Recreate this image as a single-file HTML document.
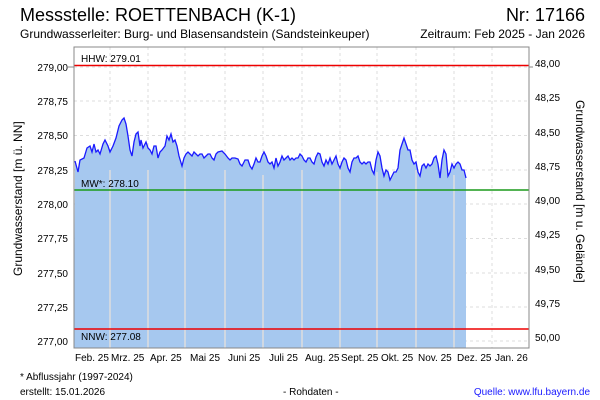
<!DOCTYPE html>
<html><head><meta charset="utf-8"><style>
body{margin:0;background:#fff;}
svg{display:block;font-family:"Liberation Sans",sans-serif;}
</style></head><body>
<svg width="600" height="400" xmlns="http://www.w3.org/2000/svg">
<rect width="600" height="400" fill="#fff"/>
<text x="20" y="21" font-size="18" fill="#000">Messstelle: ROETTENBACH (K-1)</text>
<text x="585" y="21" font-size="18" fill="#000" text-anchor="end">Nr: 17166</text>
<text x="20" y="38" font-size="12">Grundwasserleiter:  Burg- und Blasensandstein (Sandsteinkeuper)</text>
<text x="585" y="38" font-size="12" text-anchor="end">Zeitraum: Feb 2025 - Jan 2026</text>
<g stroke="#ddd" stroke-dasharray="3,3" stroke-width="1">
<line x1="74" x2="529" y1="101" y2="101"/><line x1="74" x2="529" y1="135.5" y2="135.5"/><line x1="74" x2="529" y1="170" y2="170"/><line x1="74" x2="529" y1="204" y2="204"/><line x1="74" x2="529" y1="238.5" y2="238.5"/><line x1="74" x2="529" y1="273" y2="273"/><line x1="74" x2="529" y1="307" y2="307"/><line x1="74" x2="529" y1="341" y2="341"/><line x1="74" x2="529" y1="67" y2="67"/>
<line x1="110" x2="110" y1="47" y2="348"/><line x1="148" x2="148" y1="47" y2="348"/><line x1="185" x2="185" y1="47" y2="348"/><line x1="225" x2="225" y1="47" y2="348"/><line x1="263" x2="263" y1="47" y2="348"/><line x1="302" x2="302" y1="47" y2="348"/><line x1="340" x2="340" y1="47" y2="348"/><line x1="377" x2="377" y1="47" y2="348"/><line x1="416" x2="416" y1="47" y2="348"/><line x1="454" x2="454" y1="47" y2="348"/><line x1="492" x2="492" y1="47" y2="348"/>
</g>
<polygon fill="#a6c8ef" points="74,348 75,161 78,172 80,160 84,158 87,148 90,146 92,152 94,144 96,152 98,150 100,154 103,144 105,140 108,146 110,152 113,146 116,138 119,126 122,120 124,118 126,124 128,136 130,150 132,156 134,142 136,134 138,132 140,146 141,140 143,148 146,142 148,148 150,150 152,154 154,146 156,146 158,158 160,152 162,150 165,146 167,136 169,140 171,134 173,142 175,140 177,146 179,156 182,166 184,158 186,154 188,152 190,154 192,156 194,152 196,154 198,156 200,154 202,154 204,158 206,156 208,154 210,154 212,158 214,160 216,154 218,152 222,151 225,154 228,158 230,160 232,158 235,158 238,159 240,164 242,166 245,160 248,160 250,166 252,169 254,164 256,158 258,162 260,162 262,156 264,152 266,156 268,162 270,164 272,162 274,168 276,158 278,166 280,162 282,156 284,160 286,158 288,156 290,160 292,158 294,160 296,158 298,158 300,154 302,156 304,160 306,162 308,158 310,158 312,162 314,164 316,157 318,153 320,154 322,162 324,166 326,160 328,164 330,158 332,164 334,160 336,156 338,164 340,168 342,162 344,158 346,160 348,168 350,172 352,162 354,158 356,158 358,156 360,162 362,164 364,162 366,164 368,162 370,162 372,170 374,174 376,160 378,152 380,156 382,168 384,176 386,170 388,172 390,180 392,176 394,172 396,172 398,168 400,150 402,144 404,138 406,144 408,150 410,150 412,160 414,164 416,162 418,172 420,176 422,166 424,164 426,168 428,164 430,166 432,164 434,158 436,156 438,164 440,178 442,160 444,150 446,154 448,176 450,172 452,164 454,168 456,164 458,162 460,164 462,170 464,170 466,178 466,348"/>
<g stroke="#ddd" stroke-width="1.5">
<line x1="110" x2="110" y1="170" y2="348"/><line x1="148" x2="148" y1="170" y2="348"/><line x1="185" x2="185" y1="170" y2="348"/><line x1="225" x2="225" y1="170" y2="348"/><line x1="263" x2="263" y1="175" y2="348"/><line x1="302" x2="302" y1="170" y2="348"/><line x1="340" x2="340" y1="170" y2="348"/><line x1="377" x2="377" y1="172" y2="348"/><line x1="416" x2="416" y1="170" y2="348"/><line x1="454" x2="454" y1="175" y2="348"/>
</g>
<polyline fill="none" stroke="#1a1aff" stroke-width="1.3" points="75,161 78,172 80,160 84,158 87,148 90,146 92,152 94,144 96,152 98,150 100,154 103,144 105,140 108,146 110,152 113,146 116,138 119,126 122,120 124,118 126,124 128,136 130,150 132,156 134,142 136,134 138,132 140,146 141,140 143,148 146,142 148,148 150,150 152,154 154,146 156,146 158,158 160,152 162,150 165,146 167,136 169,140 171,134 173,142 175,140 177,146 179,156 182,166 184,158 186,154 188,152 190,154 192,156 194,152 196,154 198,156 200,154 202,154 204,158 206,156 208,154 210,154 212,158 214,160 216,154 218,152 222,151 225,154 228,158 230,160 232,158 235,158 238,159 240,164 242,166 245,160 248,160 250,166 252,169 254,164 256,158 258,162 260,162 262,156 264,152 266,156 268,162 270,164 272,162 274,168 276,158 278,166 280,162 282,156 284,160 286,158 288,156 290,160 292,158 294,160 296,158 298,158 300,154 302,156 304,160 306,162 308,158 310,158 312,162 314,164 316,157 318,153 320,154 322,162 324,166 326,160 328,164 330,158 332,164 334,160 336,156 338,164 340,168 342,162 344,158 346,160 348,168 350,172 352,162 354,158 356,158 358,156 360,162 362,164 364,162 366,164 368,162 370,162 372,170 374,174 376,160 378,152 380,156 382,168 384,176 386,170 388,172 390,180 392,176 394,172 396,172 398,168 400,150 402,144 404,138 406,144 408,150 410,150 412,160 414,164 416,162 418,172 420,176 422,166 424,164 426,168 428,164 430,166 432,164 434,158 436,156 438,164 440,178 442,160 444,150 446,154 448,176 450,172 452,164 454,168 456,164 458,162 460,164 462,170 464,170 466,178"/>
<line x1="74" x2="529" y1="65.5" y2="65.5" stroke="#e00" stroke-width="1.5"/>
<line x1="74" x2="529" y1="190" y2="190" stroke="#1a9a1a" stroke-width="1.5"/>
<line x1="74" x2="529" y1="329" y2="329" stroke="#e00" stroke-width="1.5"/>
<text x="81" y="62" font-size="10">HHW: 279.01</text>
<text x="81" y="187" font-size="10">MW*: 278.10</text>
<text x="81" y="340" font-size="10">NNW: 277.08</text>
<rect x="74" y="47" width="455" height="301" fill="none" stroke="#888" stroke-width="1"/>
<g font-size="10" text-anchor="end">
<text x="68" y="71">279,00</text><text x="68" y="105">278,75</text><text x="68" y="139">278,50</text><text x="68" y="174">278,25</text><text x="68" y="208">278,00</text><text x="68" y="242">277,75</text><text x="68" y="277">277,50</text><text x="68" y="311">277,25</text><text x="68" y="345">277,00</text>
</g>
<g font-size="10">
<text x="535" y="67">48,00</text><text x="535" y="101">48,25</text><text x="535" y="136">48,50</text><text x="535" y="170">48,75</text><text x="535" y="204">49,00</text><text x="535" y="238">49,25</text><text x="535" y="273">49,50</text><text x="535" y="307">49,75</text><text x="535" y="341">50,00</text>
</g>
<g stroke="#888"><line x1="68" x2="74" y1="67" y2="67"/><line x1="529" x2="533" y1="67" y2="67"/></g>
<g font-size="10">
<text x="75" y="361">Feb. 25</text><text x="111" y="361">Mrz. 25</text><text x="150" y="361">Apr. 25</text><text x="190" y="361">Mai 25</text><text x="228" y="361">Juni 25</text><text x="269" y="361">Juli 25</text><text x="305" y="361">Aug. 25</text><text x="341" y="361">Sept. 25</text><text x="381" y="361">Okt. 25</text><text x="418" y="361">Nov. 25</text><text x="457" y="361">Dez. 25</text><text x="495" y="361">Jan. 26</text>
</g>
<text x="22" y="276" font-size="12" transform="rotate(-90 22 276)">Grundwasserstand [m ü. NN]</text>
<text x="576" y="100" font-size="12" transform="rotate(90 576 100)">Grundwasserstand [m u. Gelände]</text>
<text x="20" y="380" font-size="10">* Abflussjahr (1997-2024)</text>
<text x="20" y="395" font-size="10">erstellt:  15.01.2026</text>
<text x="283" y="395" font-size="10">- Rohdaten -</text>
<text x="590" y="395" font-size="10" fill="#1a1aff" text-anchor="end">Quelle: www.lfu.bayern.de</text>
</svg>
</body></html>
